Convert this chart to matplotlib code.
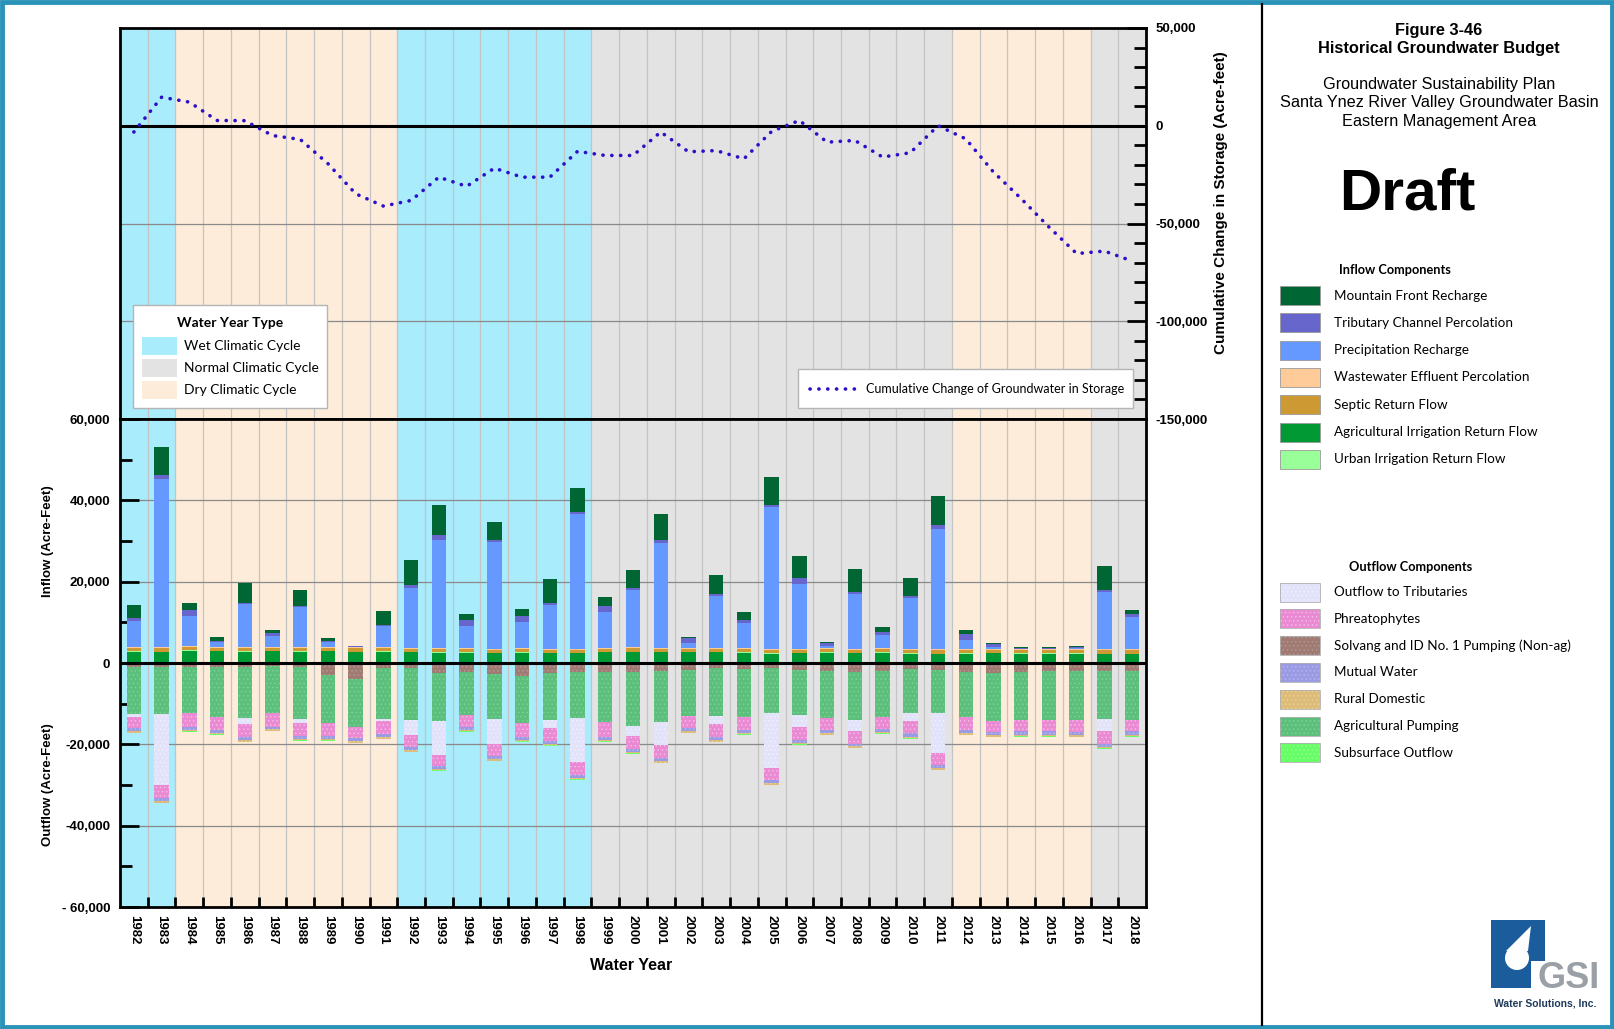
import numpy as np
import matplotlib.pyplot as plt
import matplotlib.transforms as mtransforms
from matplotlib.patches import Rectangle, Polygon
from matplotlib.lines import Line2D
from matplotlib.ticker import MultipleLocator

W_PX, H_PX = 1614, 1029

plt.rcParams['font.family'] = ['Liberation Sans', 'DejaVu Sans']
plt.rcParams['hatch.linewidth'] = 0.5

# ---- data (acre-feet per water year) ----
years = [1982, 1983, 1984, 1985, 1986, 1987, 1988, 1989, 1990, 1991,
         1992, 1993, 1994, 1995, 1996, 1997, 1998, 1999, 2000, 2001,
         2002, 2003, 2004, 2005, 2006, 2007, 2008, 2009, 2010, 2011,
         2012, 2013, 2014, 2015, 2016, 2017, 2018]

climate_periods = [(1982, 1983, "Wet"), (1984, 1991, "Dry"), (1992, 1998, "Wet"),
                   (1999, 2011, "Normal"), (2012, 2016, "Dry"), (2017, 2018, "Normal")]

# inflow components
ag_irrigation_return = [2800, 2700, 3000, 2900, 2800, 2900, 2800, 2900, 2700, 2800,
                        2600, 2500, 2500, 2400, 2500, 2400, 2400, 2600, 2700, 2600,
                        2600, 2600, 2500, 2300, 2400, 2500, 2400, 2500, 2300, 2200,
                        2300, 2400, 2300, 2300, 2300, 2200, 2200]
urban_irrigation_return = [100, 100, 100, 100, 100, 100, 100, 100, 100, 100,
                           100, 100, 100, 100, 100, 100, 100, 100, 100, 100,
                           100, 100, 100, 100, 100, 100, 100, 100, 100, 100,
                           100, 100, 100, 100, 100, 100, 100]
septic_return = [800, 800, 800, 800, 800, 800, 800, 800, 800, 800,
                 800, 800, 800, 800, 800, 800, 800, 800, 800, 800,
                 800, 800, 800, 800, 800, 800, 800, 800, 800, 800,
                 800, 800, 800, 800, 800, 800, 800]
wastewater_effluent = [250, 250, 250, 250, 250, 250, 250, 250, 250, 250,
                       250, 250, 250, 250, 250, 250, 250, 250, 250, 250,
                       250, 250, 250, 250, 250, 250, 250, 250, 250, 250,
                       250, 250, 250, 250, 250, 250, 250]
precipitation_recharge = [6400, 41500, 7300, 1000, 10500, 2700, 9700, 1000, 0, 5100,
                          14600, 26700, 5400, 26300, 6400, 10700, 33000, 8700, 14100, 25800,
                          1200, 12800, 6100, 35000, 15800, 600, 13500, 3200, 12500, 29600,
                          2300, 400, 0, 0, 200, 14200, 8000]
tributary_percolation = [600, 800, 1600, 400, 400, 700, 400, 400, 300, 400,
                         800, 1200, 1500, 500, 1400, 600, 600, 1600, 600, 700,
                         1100, 400, 800, 400, 1600, 600, 300, 800, 600, 1000,
                         1500, 600, 300, 300, 300, 400, 800]
mountain_front = [3400, 7000, 1800, 900, 4900, 600, 3900, 600, 100, 3300,
                  6200, 7400, 1600, 4400, 1900, 5700, 5900, 2200, 4300, 6300,
                  400, 4600, 1900, 6900, 5300, 200, 5700, 1100, 4400, 7100,
                  800, 400, 100, 100, 300, 6000, 800]

# outflow components
solvang_pumping = [1100, 1100, 1000, 1100, 1100, 800, 1100, 3000, 3900, 1200,
                   1300, 2500, 2100, 2800, 3200, 2500, 2100, 2200, 2200, 2000,
                   1600, 1300, 1500, 1300, 1700, 1900, 2100, 1900, 1500, 1700,
                   2100, 2500, 2300, 1900, 1900, 1900, 2000]
ag_pumping = [11400, 11400, 11200, 12100, 12500, 11600, 12700, 11700, 11800, 12500,
              12700, 11700, 10700, 11000, 11600, 11500, 11500, 12200, 13300, 12400,
              11400, 11700, 11700, 11100, 11100, 11700, 11900, 11300, 10900, 10700,
              11300, 11700, 11700, 12000, 12100, 11900, 11900]
outflow_tributaries = [800, 17500, 0, 0, 1500, 0, 900, 0, 0, 600,
                       3700, 8300, 0, 6100, 0, 2100, 10800, 0, 2400, 5800,
                       0, 2000, 0, 13300, 3000, 0, 2600, 0, 1800, 9800,
                       0, 0, 0, 0, 0, 2800, 0]
phreatophytes = [2800, 3300, 3500, 3200, 3200, 3300, 3200, 3200, 2700, 3200,
                 3000, 2800, 2900, 3000, 3400, 3000, 3100, 3800, 3200, 3200,
                 3000, 3300, 3200, 3100, 3100, 2900, 3200, 3000, 3100, 2900,
                 3000, 2800, 2800, 2900, 3000, 3300, 2900]
mutual_water = [700, 700, 700, 700, 700, 600, 700, 700, 800, 700,
                700, 700, 700, 700, 700, 700, 700, 700, 700, 700,
                700, 700, 700, 700, 700, 700, 700, 700, 800, 800,
                800, 800, 800, 800, 800, 700, 800]
rural_domestic = [400, 400, 400, 400, 400, 400, 400, 400, 400, 400,
                  400, 400, 400, 400, 400, 400, 400, 400, 400, 400,
                  400, 400, 400, 400, 400, 400, 400, 400, 400, 400,
                  400, 400, 400, 400, 400, 400, 400]
subsurface_outflow = [100, 100, 100, 100, 100, 100, 100, 100, 100, 100,
                      100, 100, 100, 100, 100, 100, 100, 100, 100, 100,
                      100, 100, 100, 100, 100, 100, 100, 100, 100, 100,
                      100, 100, 100, 100, 100, 100, 100]

cumulative_storage = [-3200, 14600, 12100, 2700, 2600, -5000, -7000, -19400, -34800, -41100,
                      -38200, -26300, -31000, -21700, -26300, -26300, -13100, -15200, -15200, -3200,
                      -13300, -12700, -16900, -2900, 2700, -8400, -7500, -16000, -13800, 0,
                      -6700, -23700, -37300, -51800, -65400, -64100, -69200]

# ---- styles ----
shade = {"Wet": "#a9ecfc", "Normal": "#e3e3e3", "Dry": "#fdecda"}

inflow_stack = [  # bottom to top
    ("Agricultural Irrigation Return Flow", ag_irrigation_return, "#009933"),
    ("Urban Irrigation Return Flow", urban_irrigation_return, "#99ff99"),
    ("Septic Return Flow", septic_return, "#cc9933"),
    ("Wastewater Effluent Percolation", wastewater_effluent, "#ffcc99"),
    ("Precipitation Recharge", precipitation_recharge, "#6699ff"),
    ("Tributary Channel Percolation", tributary_percolation, "#6666cc"),
    ("Mountain Front Recharge", mountain_front, "#006633"),
]
inflow_legend = ["Mountain Front Recharge", "Tributary Channel Percolation",
                 "Precipitation Recharge", "Wastewater Effluent Percolation",
                 "Septic Return Flow", "Agricultural Irrigation Return Flow",
                 "Urban Irrigation Return Flow"]

outflow_stack = [  # from zero downward
    ("Solvang and ID No. 1 Pumping (Non-ag)", solvang_pumping, "#a07b74", "#b99a94"),
    ("Agricultural Pumping", ag_pumping, "#5cbf7c", "#7fd39a"),
    ("Outflow to Tributaries", outflow_tributaries, "#e2e2fa", "#f2f2ff"),
    ("Phreatophytes", phreatophytes, "#e98ad2", "#f6c0ea"),
    ("Mutual Water", mutual_water, "#9b9be3", "#b8b8f0"),
    ("Rural Domestic", rural_domestic, "#dcbc78", "#ecd49c"),
    ("Subsurface Outflow", subsurface_outflow, "#66ff66", "#99ff99"),
]
outflow_legend = ["Outflow to Tributaries", "Phreatophytes",
                  "Solvang and ID No. 1 Pumping (Non-ag)", "Mutual Water",
                  "Rural Domestic", "Agricultural Pumping", "Subsurface Outflow"]

x = np.array(years)
bounds = x[:-1] + 0.5
bar_w = 0.52
bold_tick = dict(fontsize=9.5, fontweight='bold')


def fx(px):
    return px / W_PX


def fy(py):
    return 1 - py / H_PX


def shade_years(ax):
    for start, end, kind in climate_periods:
        ax.axvspan(start - 0.5, end + 0.5, color=shade[kind], lw=0, zorder=0)
    for b in bounds:
        ax.axvline(b, color="#c4c4c4", lw=0.9, zorder=0.5)
    ax.set_xlim(x[0] - 0.5, x[-1] + 0.5)
    for sp in ax.spines.values():
        sp.set_linewidth(2)


fig = plt.figure(figsize=(W_PX / 100, H_PX / 100), dpi=100)

# ---------- cumulative change in storage ----------
ax_top = fig.add_axes([fx(120), fy(419), (1146 - 120) / W_PX, (419 - 28) / H_PX])
shade_years(ax_top)
ax_top.set_ylim(-150000, 50000)
for v in (-50000, -100000):
    ax_top.axhline(v, color="#8a8a8a", lw=0.9, zorder=0.6)
ax_top.axhline(0, color="black", lw=2.2, zorder=3)
ax_top.plot(x, cumulative_storage, color="#2c0fc8", lw=2.6,
            linestyle=(0, (0.05, 2.4)), dash_capstyle="round", zorder=4)
ax_top.set_xticks([])
ax_top.set_yticks([-150000, -100000, -50000, 0, 50000])
ax_top.set_yticklabels(["-150,000", "-100,000", "-50,000", "0", "50,000"], **bold_tick)
ax_top.yaxis.set_minor_locator(MultipleLocator(10000))
ax_top.tick_params(axis="y", which="both", left=False, right=True,
                   labelleft=False, labelright=True, direction="in", pad=7)
ax_top.tick_params(axis="y", which="major", length=14, width=2)
ax_top.tick_params(axis="y", which="minor", length=8.5, width=2)
ax_top.text(1.073, 0.553, "Cumulative Change in Storage (Acre-feet)", transform=ax_top.transAxes,
            rotation=90, ha="center", va="center", fontsize=11, fontweight="bold")

# ---------- inflow / outflow bars ----------
ax_bot = fig.add_axes([fx(120), fy(907), (1146 - 120) / W_PX, (907 - 419) / H_PX])
shade_years(ax_bot)
ax_bot.set_ylim(-60000, 60000)
for v in (-40000, -20000, 20000, 40000):
    ax_bot.axhline(v, color="#8a8a8a", lw=0.9, zorder=0.6)

base = np.zeros(len(years))
for name, vals, col in inflow_stack:
    v = np.array(vals, dtype=float)
    ax_bot.bar(x, v, bar_w, bottom=base, color=col, lw=0, zorder=2)
    base += v

base = np.zeros(len(years))
for name, vals, col, hcol in outflow_stack:
    v = -np.array(vals, dtype=float)
    ax_bot.bar(x, v, bar_w, bottom=base, facecolor=col, edgecolor=hcol,
               hatch="....", lw=0, zorder=2)
    base += v

ax_bot.axhline(0, color="black", lw=2.2, zorder=3)

ax_bot.set_yticks([-60000, -40000, -20000, 0, 20000, 40000, 60000])
ax_bot.set_yticklabels(["- 60,000", "-40,000", "-20,000", "0", "20,000", "40,000", "60,000"],
                       **bold_tick)
ax_bot.yaxis.set_minor_locator(MultipleLocator(10000))
ax_bot.tick_params(axis="y", which="both", direction="in", pad=7)
ax_bot.tick_params(axis="y", which="major", length=14, width=2)
ax_bot.tick_params(axis="y", which="minor", length=8.5, width=2)

ax_bot.set_xticks(bounds)
ax_bot.set_xticklabels([])
ax_bot.set_xticks(x, minor=True)
ax_bot.set_xticklabels([str(y) for y in years], minor=True, rotation=-90,
                       fontsize=9.5, fontweight="bold")
ax_bot.tick_params(axis="x", which="major", direction="in", length=7, width=2)
ax_bot.tick_params(axis="x", which="minor", length=0, pad=6)

trans = mtransforms.blended_transform_factory(ax_bot.transAxes, ax_bot.transData)
ax_bot.text(-0.07, 30000, "Inflow (Acre-Feet)", transform=trans, rotation=90,
            ha="center", va="center", fontsize=9.5, fontweight="bold")
ax_bot.text(-0.07, -30000, "Outflow (Acre-Feet)", transform=trans, rotation=90,
            ha="center", va="center", fontsize=9.5, fontweight="bold")

# ---------- page furniture drawn in pixel space ----------
ov = fig.add_axes([0, 0, 1, 1])
ov.set_xlim(0, W_PX)
ov.set_ylim(H_PX, 0)
ov.axis("off")

ov.text(631, 966, "Water Year", ha="center", va="center", fontsize=11.5, fontweight="bold")

# water year type legend
ov.add_patch(Rectangle((133, 305), 194, 103, facecolor="white", edgecolor="#b5b5b5", lw=1, zorder=5))
ov.text(230, 323, "Water Year Type", ha="center", va="center", fontsize=10,
        fontweight="bold", family="Lato", zorder=6)
for yc, kind, label in [(345.5, "Wet", "Wet Climatic Cycle"),
                        (368, "Normal", "Normal Climatic Cycle"),
                        (390, "Dry", "Dry Climatic Cycle")]:
    ov.add_patch(Rectangle((142, yc - 9), 35, 18, facecolor=shade[kind], lw=0, zorder=6))
    ov.text(184, yc, label, ha="left", va="center", fontsize=10, family="Lato", zorder=6)

# cumulative line legend
ov.add_patch(Rectangle((798, 369), 335, 39, facecolor="white", edgecolor="#b5b5b5", lw=1, zorder=5))
ov.add_line(Line2D([810, 855], [389, 389], color="#2c0fc8", lw=2.6,
                   linestyle=(0, (0.05, 2.4)), dash_capstyle="round", zorder=6))
ov.text(866, 389, "Cumulative Change of Groundwater in Storage", ha="left", va="center",
        fontsize=9, family="Lato", zorder=6)

# side panel
ov.add_line(Line2D([1262, 1262], [4, 1025], color="black", lw=1.6))
ov.text(1439, 31, "Figure 3-46", ha="center", va="center", fontsize=11.8, fontweight="bold")
ov.text(1439, 48.5, "Historical Groundwater Budget", ha="center", va="center", fontsize=11.8,
        fontweight="bold")
ov.text(1439, 84.5, "Groundwater Sustainability Plan", ha="center", va="center", fontsize=11.7)
ov.text(1439, 103, "Santa Ynez River Valley Groundwater Basin", ha="center", va="center",
        fontsize=11.7)
ov.text(1439, 121.5, "Eastern Management Area", ha="center", va="center", fontsize=11.7)
ov.text(1407, 194, "Draft", ha="center", va="center", fontsize=42, fontweight="bold")

ov.text(1395, 270, "Inflow Components", ha="center", va="center", fontsize=9.2,
        fontweight="bold", family="Lato")
inflow_colors = {name: col for name, _, col in inflow_stack}
for k, name in enumerate(inflow_legend):
    yc = 295.5 + 27.3 * k
    ov.add_patch(Rectangle((1280, yc - 9.5), 40, 19, facecolor=inflow_colors[name],
                           edgecolor="#9a9a9a", lw=0.6))
    ov.text(1334, yc, name, ha="left", va="center", fontsize=9.7, family="Lato")

ov.text(1411, 567, "Outflow Components", ha="center", va="center", fontsize=9.2,
        fontweight="bold", family="Lato")
outflow_colors = {name: (col, hcol) for name, _, col, hcol in outflow_stack}
for k, name in enumerate(outflow_legend):
    yc = 592 + 26.8 * k
    col, hcol = outflow_colors[name]
    ov.add_patch(Rectangle((1280, yc - 9.5), 40, 19, facecolor=col, edgecolor=hcol,
                           hatch="....", lw=0))
    ov.add_patch(Rectangle((1280, yc - 9.5), 40, 19, fill=False, edgecolor="#b0b0b0", lw=0.6))
    ov.text(1334, yc, name, ha="left", va="center", fontsize=9.7, family="Lato")

# company mark
ov.add_patch(Rectangle((1491, 920), 54, 68, facecolor="#1b5c9c", lw=0))
t = np.linspace(0, 2 * np.pi, 60)
drop = np.column_stack([1517 + 12 * np.cos(t), 958 + 12 * np.sin(t)])
ov.add_patch(Polygon(drop, closed=True, facecolor="white", lw=0))
ov.add_patch(Polygon([[1506, 951], [1528, 951], [1531, 926]], closed=True,
                     facecolor="white", lw=0))
ov.add_patch(Rectangle((1531, 961), 68, 28, facecolor="white", lw=0))
ov.text(1569, 988, "GSI", ha="center", va="baseline", fontsize=26, fontweight="bold",
        color="#9aa0a6")
ov.text(1545, 1003, "Water Solutions, Inc.", ha="center", va="center", fontsize=7.5,
        fontweight="bold", color="#1f3a5a")

# outer frame
ov.add_patch(Rectangle((2, 2), W_PX - 4, H_PX - 4, fill=False, edgecolor="#2a93b8", lw=3.5))

fig.savefig("out.png", dpi=100)
